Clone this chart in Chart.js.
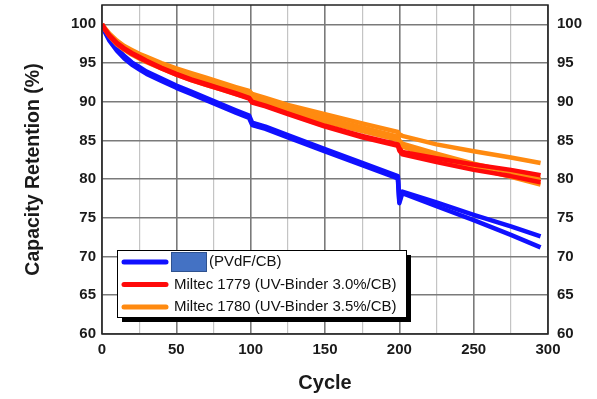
<!DOCTYPE html>
<html>
<head>
<meta charset="utf-8">
<script src="https://cdn.jsdelivr.net/npm/chart.js@4"></script>
<style>
  html, body { margin: 0; padding: 0; background: #fff; }
  #wrap { width: 597px; height: 399px; }
</style>
</head>
<body>
<div id="wrap"><canvas id="capChart"></canvas></div>
<script>
// cycle numbers shared by every cell
const cycles = [0, 2, 5, 10, 15, 20, 25, 30, 40, 50, 60, 70, 80, 90, 99, 101, 110, 125, 150, 175, 199, 200, 202, 225, 250, 275, 295];

// PVdF/CB cells
const blueA = [100, 99.2, 98.1, 96.9, 95.9, 95.1, 94.5, 93.9, 93.0, 92.1, 91.3, 90.5, 89.7, 88.9, 88.2, 87.3, 86.8, 85.7, 83.9, 82.1, 80.4, 77.2, 78.4, 77.0, 75.4, 73.9, 72.6];
const blueB = [100, 99.0, 97.9, 96.6, 95.6, 94.8, 94.2, 93.6, 92.7, 91.8, 91.0, 90.2, 89.4, 88.6, 87.9, 87.0, 86.5, 85.4, 83.6, 81.8, 80.1, 76.9, 78.2, 76.5, 74.7, 72.8, 71.2];
// Miltec 1779 cells
const redA = [100, 99.4, 98.6, 97.6, 96.9, 96.3, 95.8, 95.3, 94.4, 93.6, 92.9, 92.3, 91.7, 91.1, 90.5, 90.0, 89.5, 88.5, 86.9, 85.6, 84.5, 84.0, 83.5, 82.7, 81.9, 81.2, 80.5];
const redB = [100, 99.3, 98.5, 97.5, 96.8, 96.2, 95.7, 95.2, 94.3, 93.5, 92.8, 92.2, 91.6, 91.0, 90.4, 89.9, 89.4, 88.4, 86.8, 85.4, 84.3, 83.7, 83.2, 82.2, 81.2, 80.4, 79.6];
// Miltec 1780 cells
const orangeA = [100, 99.5, 98.8, 97.9, 97.2, 96.7, 96.2, 95.8, 95.0, 94.3, 93.7, 93.1, 92.5, 91.9, 91.4, 91.0, 90.5, 89.6, 88.4, 87.2, 86.1, 85.8, 85.6, 84.5, 83.6, 82.8, 82.1];
const orangeB = [100, 99.4, 98.7, 97.7, 97.0, 96.4, 95.9, 95.4, 94.6, 93.9, 93.2, 92.6, 92.0, 91.4, 90.9, 90.5, 90.0, 89.1, 87.9, 86.7, 85.5, 85.0, 84.6, 83.3, 82.0, 80.9, 80.0];
const orangeC = [100, 99.3, 98.5, 97.4, 96.7, 96.1, 95.6, 95.1, 94.3, 93.5, 92.8, 92.2, 91.6, 91.0, 90.5, 90.1, 89.6, 88.7, 87.4, 86.2, 85.1, 84.6, 84.2, 82.8, 81.5, 80.3, 79.3];

const legendLabels = ['(PVdF/CB)', 'Miltec 1779 (UV-Binder 3.0%/CB)', 'Miltec 1780 (UV-Binder 3.5%/CB)'];
const seriesColors = ['#1010ff', '#ff0a0a', '#ff8a10'];

const pts = vals => vals.map((v, i) => ({ x: cycles[i], y: v }));

function cell(vals, color, group) {
  return {
    label: legendLabels[group],
    data: pts(vals),
    borderColor: color,
    borderWidth: 4.5,
    borderJoinStyle: 'round',
    pointRadius: 0,
    fill: false,
    tension: 0,
    yAxisID: 'y'
  };
}

const datasets = [
  cell(redB, seriesColors[1], 1),
  cell(redA, seriesColors[1], 1),
  cell(orangeC, seriesColors[2], 2),
  cell(orangeB, seriesColors[2], 2),
  cell(orangeA, seriesColors[2], 2),
  cell(blueB, seriesColors[0], 0),
  cell(blueA, seriesColors[0], 0)
];

const fontFam = 'Arial, "Liberation Sans", sans-serif';
const tickFont = { family: fontFam, size: 15, weight: 'bold' };

// frame + boxed legend inside the plot
const framePlugin = {
  id: 'frameLegend',
  afterDatasetsDraw(chart) {
    const ctx = chart.ctx;
    const a = chart.chartArea;
    ctx.save();
    ctx.strokeStyle = '#222';
    ctx.lineWidth = 1.5;
    ctx.strokeRect(a.left, a.top, a.right - a.left, a.bottom - a.top);

    const bx = 117, by = 250, bw = 289, bh = 67;
    ctx.fillStyle = '#000';
    ctx.fillRect(bx + 5, by + 5, bw, bh);
    ctx.fillStyle = '#fff';
    ctx.fillRect(bx, by, bw, bh);
    ctx.strokeStyle = '#000';
    ctx.lineWidth = 1;
    ctx.strokeRect(bx + 0.5, by + 0.5, bw, bh);

    ctx.font = '15px ' + fontFam;
    ctx.textBaseline = 'middle';
    legendLabels.forEach((lab, i) => {
      const y = by + 12 + i * 22.5;
      ctx.strokeStyle = seriesColors[i];
      ctx.lineWidth = 5;
      ctx.lineCap = 'round';
      ctx.beginPath();
      ctx.moveTo(124, y);
      ctx.lineTo(166, y);
      ctx.stroke();
      ctx.fillStyle = '#111';
      if (i === 0) {
        ctx.fillStyle = '#4472c4';
        ctx.fillRect(171, y - 10, 36, 20);
        ctx.strokeStyle = '#2f528f';
        ctx.lineWidth = 1;
        ctx.strokeRect(171.5, y - 9.5, 35, 19);
        ctx.fillStyle = '#111';
        ctx.fillText(lab, 209, y);
      } else {
        ctx.fillText(lab, 174, y);
      }
    });
    ctx.restore();
  }
};

new Chart(document.getElementById('capChart'), {
  type: 'line',
  data: { datasets },
  options: {
    responsive: true,
    maintainAspectRatio: false,
    animation: false,
    layout: { padding: { top: 5, left: 0, right: 0, bottom: 0 } },
    plugins: { legend: { display: false }, tooltip: { enabled: false } },
    scales: {
      x: {
        type: 'linear',
        min: 0, max: 300,
        afterFit: s => { s.height = 65; s.paddingLeft = 0; s.paddingRight = 0; },
        ticks: {
          stepSize: 25, padding: 7, color: '#1a1a1a', font: tickFont,
          callback: v => (v % 50 === 0 ? v : '')
        },
        grid: {
          drawTicks: false,
          color: c => (c.tick && c.tick.value % 50 === 0 ? '#7a7a7a' : '#c4c4c4'),
          lineWidth: c => (c.tick && c.tick.value % 50 === 0 ? 1.6 : 1.2)
        },
        border: { display: false },
        title: {
          display: true, text: 'Cycle', color: '#1a1a1a',
          font: { family: fontFam, size: 20, weight: 'bold' },
          padding: { top: 0, bottom: 4 }
        }
      },
      y: {
        position: 'left',
        min: 60, max: 102.5,
        afterFit: s => { s.width = 102; s.paddingTop = 0; s.paddingBottom = 0; },
        ticks: {
          stepSize: 2.5, padding: 6, color: '#1a1a1a', font: tickFont,
          callback: v => (v % 5 === 0 ? v : '')
        },
        grid: {
          drawTicks: false,
          color: c => (c.tick && c.tick.value % 5 === 0 ? '#7a7a7a' : '#c4c4c4'),
          lineWidth: c => (c.tick && c.tick.value % 5 === 0 ? 1.6 : 1.2)
        },
        border: { display: false },
        title: {
          display: true, text: 'Capacity Retention (%)', color: '#1a1a1a',
          font: { family: fontFam, size: 19.5, weight: 'bold' },
          padding: { top: 22, bottom: 0 }
        }
      },
      y2: {
        position: 'right',
        min: 60, max: 102.5,
        afterFit: s => { s.width = 49; s.paddingTop = 0; s.paddingBottom = 0; },
        ticks: {
          stepSize: 2.5, padding: 9, color: '#1a1a1a', font: tickFont,
          callback: v => (v % 5 === 0 ? v : '')
        },
        grid: { display: false, drawTicks: false },
        border: { display: false }
      }
    }
  },
  plugins: [framePlugin]
});
</script>
</body>
</html>
